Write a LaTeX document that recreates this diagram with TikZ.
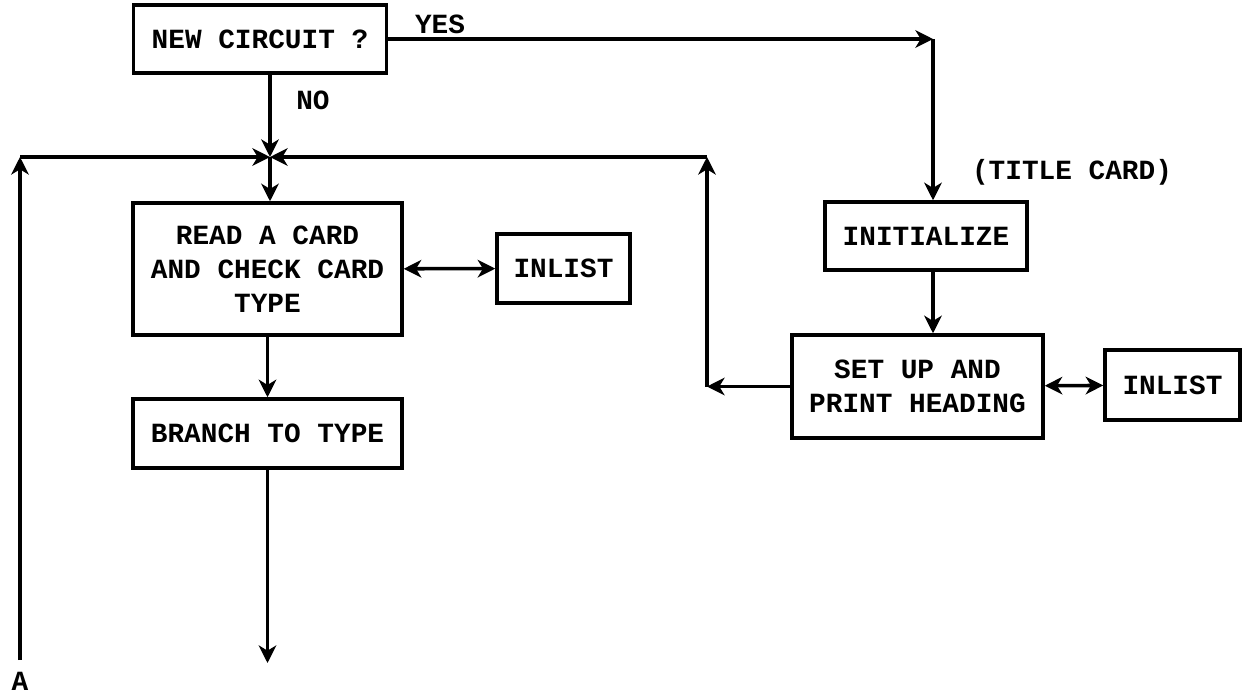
\documentclass[tikz,border=0pt]{standalone}
\usepackage{fontspec}
\setmainfont{Liberation Mono}
\usetikzlibrary{arrows.meta}

\begin{document}
\begin{tikzpicture}[
    x=0.02cm, y=-0.02cm,
    box/.style={rectangle, draw, line width=2pt, inner sep=0pt, align=center, font=\bfseries\fontsize{15.8}{19.5}\selectfont},
    lbl/.style={inner sep=0pt, font=\bfseries\fontsize{15.8}{19.5}\selectfont},
    flow/.style={line width=2pt, -{Stealth[length=10pt, width=10pt, inset=3pt]}},
    dflow/.style={line width=2pt, {Stealth[length=10pt, width=10pt, inset=3pt]}-{Stealth[length=10pt, width=10pt, inset=3pt]}}
]
    \useasboundingbox (0,0) rectangle (1249,694);

    \node[box, minimum width=5.06cm, minimum height=1.36cm] (newc) at (260,39) {NEW CIRCUIT ?};
    \node[box, minimum width=5.38cm, minimum height=2.64cm] (read) at (267.5,269) {READ A CARD\\AND CHECK CARD\\TYPE};
    \node[box, minimum width=2.66cm, minimum height=1.38cm] (inlA) at (563.5,268.5) {INLIST};
    \node[box, minimum width=5.38cm, minimum height=1.38cm] (branch) at (267.5,433.5) {BRANCH TO TYPE};
    \node[box, minimum width=4.04cm, minimum height=1.36cm] (init) at (926,236) {INITIALIZE};
    \node[box, minimum width=5.02cm, minimum height=2.06cm] (setup) at (917.5,386.5) {SET UP AND\\PRINT HEADING};
    \node[box, minimum width=2.70cm, minimum height=1.40cm] (inlB) at (1172.5,385) {INLIST};

    \node[lbl] (yes) at (440,24) {YES};
    \node[lbl] (no) at (313,100) {NO};
    \node[lbl] (title) at (1072,172) {(TITLE CARD)};
    \node[lbl, anchor=north] (conA) at (20,672) {A};

    \coordinate (join) at (270,157);
    \coordinate (ycorner) at (933,39);
    \coordinate (lbottom) at (20,660);
    \coordinate (lcorner) at (20,157);
    \coordinate (rbottom) at (707,386.5);
    \coordinate (rcorner) at (707,157);
    \coordinate (bend) at (267.5,663);

    % main line down
    \draw[flow] (newc.south -| join) -- (join);
    \draw[flow] (join) -- (read.north -| join);
    \draw[flow] (read) -- (branch);
    \draw[flow] (branch) -- (bend);
    \draw[dflow] (read) -- (inlA);

    % return paths
    \draw[flow] (lbottom) -- (lcorner);
    \draw[flow] (lcorner) -- (join);
    \draw[flow] (setup) -- (rbottom);
    \draw[flow] (rbottom) -- (rcorner);
    \draw[flow] (rcorner) -- (join);

    % yes branch
    \draw[flow] (newc) -- (ycorner);
    \draw[flow] (ycorner) -- (init.north -| ycorner);
    \draw[flow] (init.south -| ycorner) -- (setup.north -| ycorner);
    \draw[dflow] (setup) -- (inlB);
\end{tikzpicture}
\end{document}
